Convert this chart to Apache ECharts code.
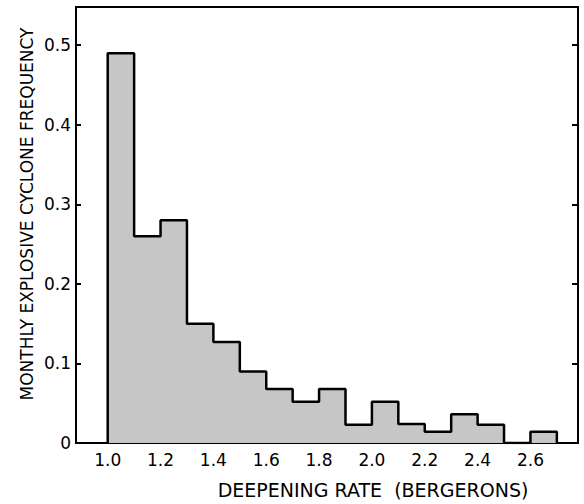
<!DOCTYPE html>
<html>
<head>
<meta charset="utf-8">
<script src="https://cdn.jsdelivr.net/npm/echarts@6/dist/echarts.min.js"></script>
<style>html,body{margin:0;padding:0;background:#fff;}#c{width:584px;height:504px;}</style>
</head>
<body>
<div id="c"></div>
<script>
// Bin left edges (Bergerons), bin width 0.1
const binStarts = [1.0, 1.1, 1.2, 1.3, 1.4, 1.5, 1.6, 1.7, 1.8, 1.9, 2.0, 2.1, 2.2, 2.3, 2.4, 2.5, 2.6];
const frequencies = [0.49, 0.26, 0.28, 0.15, 0.127, 0.09, 0.068, 0.052, 0.068, 0.023, 0.052, 0.024, 0.014, 0.036, 0.023, 0, 0.014];
const binWidth = 0.1;
const xTickLabels = [1.0, 1.2, 1.4, 1.6, 1.8, 2.0, 2.2, 2.4, 2.6];
const xTicks = [1.0, 1.1, 1.2, 1.3, 1.4, 1.5, 1.6, 1.7, 1.8, 1.9, 2.0, 2.1, 2.2, 2.3, 2.4, 2.5, 2.6, 2.7];
const yTickLabels = [0, 0.1, 0.2, 0.3, 0.4, 0.5];
const yTitle = 'MONTHLY EXPLOSIVE CYCLONE FREQUENCY';
const xTitle = 'DEEPENING RATE  (BERGERONS)';

// step outline points built from the bins
const stepData = [[binStarts[0], 0]];
binStarts.forEach((x, i) => stepData.push([x, frequencies[i]]));
stepData.push([+(binStarts[binStarts.length - 1] + binWidth).toFixed(2), 0]);

const font = 'DejaVu Sans';
const chart = echarts.init(document.getElementById('c'), null, {renderer: 'svg'});
chart.setOption({
  animation: false,
  backgroundColor: '#fff',
  grid: {left: 76, right: 6, top: 7, bottom: 61, show: true, borderColor: '#000', borderWidth: 2, backgroundColor: 'transparent'},
  xAxis: {
    type: 'value', min: 0.88, max: 2.78,
    axisLine: {show: true, onZero: false, lineStyle: {color: '#000', width: 2}},
    axisTick: {show: true, inside: true, length: 5, customValues: xTicks, lineStyle: {color: '#000', width: 2}},
    axisLabel: {customValues: xTickLabels, formatter: v => v.toFixed(1), color: '#000', fontFamily: font, fontSize: 17, margin: 8},
    splitLine: {show: false}
  },
  yAxis: [{
    type: 'value', min: 0, max: 0.548, position: 'left',
    axisLine: {show: true, lineStyle: {color: '#000', width: 2}},
    axisTick: {show: true, inside: true, length: 5, customValues: yTickLabels.slice(1), lineStyle: {color: '#000', width: 2}},
    axisLabel: {customValues: yTickLabels, formatter: v => v === 0 ? '0' : v.toFixed(1), color: '#000', fontFamily: font, fontSize: 17, margin: 5},
    splitLine: {show: false}
  }, {
    type: 'value', min: 0, max: 0.548, position: 'right',
    axisLine: {show: true, lineStyle: {color: '#000', width: 2}},
    axisTick: {show: true, inside: true, length: 6, customValues: yTickLabels.slice(1), lineStyle: {color: '#000', width: 2}},
    axisLabel: {show: false},
    splitLine: {show: false}
  }],
  graphic: [{
    type: 'text', x: 27, y: 214, rotation: Math.PI / 2,
    style: {text: yTitle, font: '17px "' + font + '"', fill: '#000', textAlign: 'center', textVerticalAlign: 'middle'}
  }, {
    type: 'text', x: 373, y: 490,
    style: {text: xTitle, font: '19px "' + font + '"', fill: '#000', textAlign: 'center', textVerticalAlign: 'middle'}
  }],
  series: [{
    type: 'line', step: 'end', data: stepData, showSymbol: false, symbol: 'none',
    lineStyle: {color: '#000', width: 2.5},
    areaStyle: {color: '#c6c6c6', opacity: 1, origin: 'start'},
    z: 1
  }]
});
</script>
</body>
</html>
